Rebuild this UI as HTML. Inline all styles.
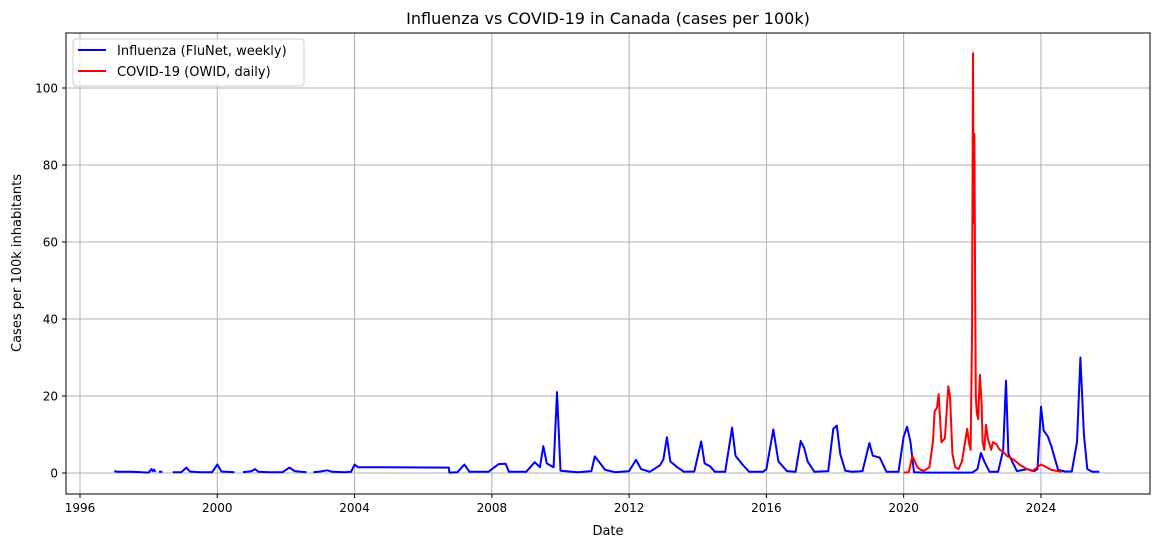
<!DOCTYPE html>
<html><head><meta charset="utf-8"><style>
body{margin:0;background:#fff;font-family:"Liberation Sans","DejaVu Sans",sans-serif}
svg text{font-family:"DejaVu Sans","Liberation Sans",sans-serif;fill:#000}
</style></head><body>
<svg id="chart" width="1160" height="547" viewBox="0 0 1160 547" xmlns="http://www.w3.org/2000/svg">
<rect width="1160" height="547" fill="#fff"/>
<g id="grid"></g>
<g id="series"></g>
<rect x="66" y="33" width="1084" height="461" fill="none" stroke="#000" stroke-width="1"/>
<g id="ticks"></g>
<text x="608" y="24" font-size="16" text-anchor="middle">Influenza vs COVID-19 in Canada (cases per 100k)</text>
<text x="608" y="535" font-size="13" text-anchor="middle">Date</text>
<text transform="translate(21,263) rotate(-90)" font-size="13" text-anchor="middle">Cases per 100k inhabitants</text>
<g>
<rect x="73" y="39" width="231" height="47" rx="3" fill="#fff" fill-opacity="0.8" stroke="#ccc"/>
<line x1="78" y1="50" x2="106" y2="50" stroke="#0000ff" stroke-width="2"/>
<text x="117" y="55" font-size="13">Influenza (FluNet, weekly)</text>
<line x1="78" y1="71" x2="106" y2="71" stroke="#ff0000" stroke-width="2"/>
<text x="117" y="76" font-size="13">COVID-19 (OWID, daily)</text>
</g>
</svg>
<script>
const xTicks=[1996,2000,2004,2008,2012,2016,2020,2024];
const yTicks=[0,20,40,60,80,100];
const fluDates=[1997.0,1997.1,1997.5,1998.0,1998.08,1998.12,1998.15,1998.2,null,1998.3,1998.4,null,1998.7,1998.95,1999.1,1999.2,1999.5,1999.85,2000.0,2000.12,2000.5,null,2000.75,2001.0,2001.1,2001.2,2001.5,2001.9,2002.1,2002.25,2002.6,null,2002.8,2003.0,2003.2,2003.35,2003.7,2003.9,2004.0,2004.1,2006.75,2006.76,2007.0,2007.2,2007.35,2007.9,2008.2,2008.4,2008.5,2009.0,2009.25,2009.4,2009.5,2009.6,2009.8,2009.9,2010.0,2010.5,2010.9,2011.0,2011.1,2011.3,2011.6,2012.0,2012.2,2012.35,2012.6,2012.9,2013.0,2013.1,2013.2,2013.4,2013.6,2013.9,2014.1,2014.2,2014.35,2014.5,2014.8,2015.0,2015.1,2015.3,2015.5,2015.9,2016.0,2016.2,2016.35,2016.6,2016.85,2017.0,2017.1,2017.2,2017.4,2017.8,2017.95,2018.05,2018.15,2018.3,2018.5,2018.8,2019.0,2019.1,2019.3,2019.5,2019.85,2020.0,2020.1,2020.2,2020.3,2020.6,2021.5,2022.0,2022.15,2022.25,2022.35,2022.5,2022.75,2022.9,2022.98,2023.05,2023.3,2023.6,2023.8,2023.9,2024.0,2024.08,2024.2,2024.3,2024.5,2024.7,2024.9,2025.05,2025.15,2025.25,2025.35,2025.5,2025.7];
const fluValues=[0.5,0.3,0.3,0.1,1.0,0.5,0.9,0.3,null,0.3,0.3,null,0.2,0.2,1.4,0.4,0.2,0.2,2.2,0.4,0.2,null,0.2,0.5,1.0,0.3,0.2,0.2,1.4,0.5,0.2,null,0.2,0.4,0.7,0.3,0.2,0.3,2.2,1.5,1.4,0.1,0.2,2.2,0.3,0.3,2.3,2.4,0.3,0.3,2.8,1.5,7.0,2.5,1.5,21.0,0.6,0.2,0.5,4.3,3.2,0.8,0.2,0.5,3.4,1.0,0.3,2.0,3.5,9.3,3.0,1.5,0.3,0.4,8.2,2.5,1.8,0.3,0.3,11.8,4.5,2.2,0.3,0.3,1.0,11.3,3.0,0.5,0.3,8.3,6.5,3.0,0.3,0.5,11.5,12.3,5.0,0.6,0.3,0.5,7.8,4.5,4.0,0.3,0.3,9.5,12.0,8.0,0.2,0.1,0.1,0.1,1.0,5.2,3.0,0.3,0.3,6.0,24.0,5.0,0.5,1.0,0.5,1.0,17.2,11.0,9.5,7.0,0.8,0.4,0.4,8.0,30.0,10.0,1.0,0.3,0.3];
const covidDates=[2020.0,2020.15,2020.25,2020.3,2020.4,2020.5,2020.6,2020.75,2020.85,2020.9,2020.97,2021.02,2021.1,2021.2,2021.3,2021.35,2021.42,2021.5,2021.6,2021.7,2021.85,2021.9,2021.95,2021.99,2022.02,2022.04,2022.06,2022.08,2022.1,2022.13,2022.17,2022.22,2022.27,2022.3,2022.35,2022.4,2022.45,2022.5,2022.55,2022.6,2022.7,2022.8,2022.9,2023.0,2023.2,2023.4,2023.6,2023.75,2023.9,2024.0,2024.1,2024.3,2024.6];
const covidValues=[0.1,0.2,4.4,3.5,1.5,0.8,0.6,1.5,8.0,16.0,17.0,20.5,8.0,9.0,22.5,20.0,5.0,1.5,1.0,3.0,11.5,8.0,6.0,35.0,109.0,65.0,88.0,50.0,20.0,15.5,14.0,25.5,18.0,8.0,6.0,12.5,9.0,7.5,6.0,8.0,7.5,6.0,5.5,4.5,3.5,2.0,1.0,0.5,1.5,2.2,1.8,0.8,0.3];

const NS='http://www.w3.org/2000/svg';
const xs=y=>80+(y-1996)*34.32;
const ys=v=>473-v*3.85;
const grid=document.getElementById('grid'),ticks=document.getElementById('ticks'),ser=document.getElementById('series');
xTicks.forEach(t=>{
  const g=document.createElementNS(NS,'line');
  
  
  g.setAttribute('x1',xs(t));g.setAttribute('x2',xs(t));g.setAttribute('y1',33);g.setAttribute('y2',494);
  g.setAttribute('stroke','#b0b0b0');g.setAttribute('stroke-width','1');grid.appendChild(g);
  const tk=document.createElementNS(NS,'line');
  
  
  tk.setAttribute('x1',xs(t));tk.setAttribute('x2',xs(t));tk.setAttribute('y1',494);tk.setAttribute('y2',498);tk.setAttribute('stroke','#000');ticks.appendChild(tk);
  const tx=document.createElementNS(NS,'text');
  
  
  tx.setAttribute('x',xs(t));tx.setAttribute('y',512);tx.setAttribute('font-size','12');tx.setAttribute('text-anchor','middle');tx.textContent=t;ticks.appendChild(tx);
});
yTicks.forEach(t=>{
  const g=document.createElementNS(NS,'line');
  
  
  g.setAttribute('x1',66);g.setAttribute('x2',1150);g.setAttribute('y1',ys(t));g.setAttribute('y2',ys(t));
  g.setAttribute('stroke','#b0b0b0');g.setAttribute('stroke-width','1');grid.appendChild(g);
  const tk=document.createElementNS(NS,'line');
  
  
  tk.setAttribute('x1',62);tk.setAttribute('x2',66);tk.setAttribute('y1',ys(t));tk.setAttribute('y2',ys(t));tk.setAttribute('stroke','#000');ticks.appendChild(tk);
  const tx=document.createElementNS(NS,'text');
  
  
  tx.setAttribute('x',58);tx.setAttribute('y',ys(t)+4.5);tx.setAttribute('font-size','12');tx.setAttribute('text-anchor','end');tx.textContent=t;ticks.appendChild(tx);
});
function path(dates,vals){
  let d='',pen=false;
  for(let i=0;i<dates.length;i++){
    if(dates[i]===null||vals[i]===null){pen=false;continue;}
    d+=(pen?'L':'M')+xs(dates[i]).toFixed(1)+','+ys(vals[i]).toFixed(1);pen=true;
  }
  return d;
}
const fp=document.createElementNS(NS,'path');


fp.setAttribute('d',path(fluDates,fluValues));fp.setAttribute('fill','none');fp.setAttribute('stroke','#0000ff');fp.setAttribute('stroke-width','2');fp.setAttribute('stroke-linejoin','round');
ser.appendChild(fp);
const cp=document.createElementNS(NS,'path');


cp.setAttribute('d',path(covidDates,covidValues));cp.setAttribute('fill','none');cp.setAttribute('stroke','#ff0000');cp.setAttribute('stroke-width','2');cp.setAttribute('stroke-linejoin','round');
ser.appendChild(cp);
</script>
</body></html>
